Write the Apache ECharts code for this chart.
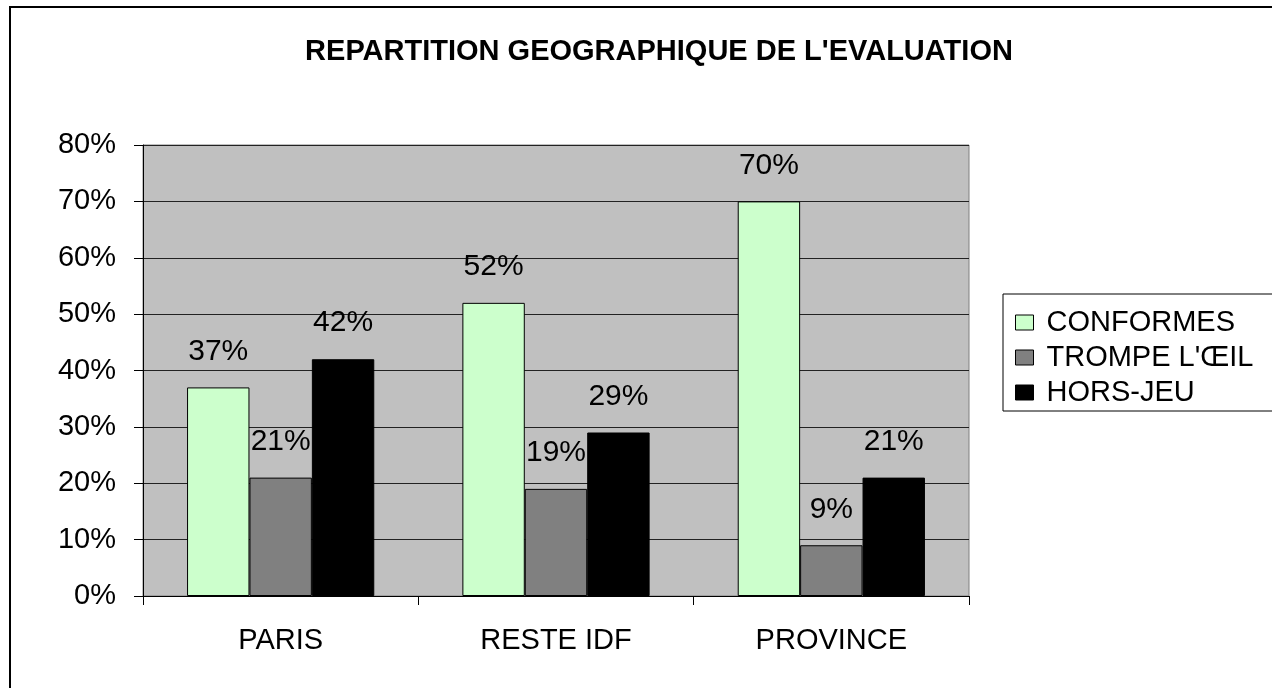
<!DOCTYPE html>
<html>
<head>
<meta charset="utf-8">
<script src="https://cdn.jsdelivr.net/npm/echarts@6/dist/echarts.min.js"></script>
<style>
  html, body { margin: 0; padding: 0; background: #fff; }
  #main { width: 1272px; height: 688px; }
</style>
</head>
<body>
<div id="main"></div>
<script>
// données
var zones = ['PARIS', 'RESTE IDF', 'PROVINCE'];
var conformes = [37, 52, 70];
var trompeOeil = [21, 19, 9];
var horsJeu = [42, 29, 21];
var yTicks = [0, 10, 20, 30, 40, 50, 60, 70, 80];

var police = 'Liberation Sans, Arial, sans-serif';

var myChart = echarts.init(document.getElementById('main'));

function serie(nom, valeurs, couleur) {
  return {
    name: nom,
    type: 'bar',
    data: valeurs,
    barGap: '0%',
    barCategoryGap: '32%',
    itemStyle: { color: couleur, borderColor: '#000', borderWidth: 1 },
    label: {
      show: true,
      position: 'top',
      distance: 21,
      formatter: '{c}%',
      color: '#000',
      fontSize: 30,
      fontFamily: police
    }
  };
}

var option = {
  backgroundColor: '#fff',
  animation: false,
  title: {
    text: "REPARTITION GEOGRAPHIQUE DE L'EVALUATION",
    left: 654,
    textAlign: 'center',
    top: 32,
    textStyle: { fontSize: 29, fontWeight: 'bold', color: '#000', fontFamily: police }
  },
  legend: {
    orient: 'vertical',
    left: 1003,
    top: 294,
    padding: [14, 60, 4, 12],
    itemGap: 6,
    itemWidth: 18,
    itemHeight: 15,
    icon: 'rect',
    borderColor: '#000',
    borderWidth: 1,
    itemStyle: { borderColor: '#000', borderWidth: 1 },
    textStyle: { fontSize: 29, color: '#000', fontFamily: police, padding: [0, 0, 0, 8] },
    data: ['CONFORMES', "TROMPE L'ŒIL", 'HORS-JEU']
  },
  grid: {
    left: 143,
    top: 145,
    width: 826,
    height: 451,
    show: true,
    backgroundColor: '#c0c0c0',
    borderColor: '#808080',
    borderWidth: 1,
    containLabel: false,
    outerBoundsMode: 'none'
  },
  xAxis: {
    type: 'category',
    data: zones,
    axisLine: { show: true, lineStyle: { color: '#000', width: 1 } },
    axisTick: { show: true, length: 9, lineStyle: { color: '#000' } },
    axisLabel: { fontSize: 29, color: '#000', fontFamily: police, margin: 30 }
  },
  yAxis: {
    type: 'value',
    min: yTicks[0],
    max: yTicks[yTicks.length - 1],
    interval: 10,
    axisLine: { show: true, lineStyle: { color: '#000', width: 1 } },
    axisTick: { show: true, length: 9, lineStyle: { color: '#000' } },
    axisLabel: { formatter: '{value}%', fontSize: 29, color: '#000', fontFamily: police, margin: 27 },
    splitLine: { show: true, lineStyle: { color: '#222', width: 1 } }
  },
  graphic: [{
    type: 'rect',
    shape: { x: 10, y: 7, width: 1300, height: 700 },
    style: { fill: 'none', stroke: '#000', lineWidth: 2 },
    silent: true,
    z: 100
  }],
  series: [
    serie('CONFORMES', conformes, '#ccffcc'),
    serie("TROMPE L'ŒIL", trompeOeil, '#808080'),
    serie('HORS-JEU', horsJeu, '#000')
  ]
};

myChart.setOption(option);
</script>
</body>
</html>
